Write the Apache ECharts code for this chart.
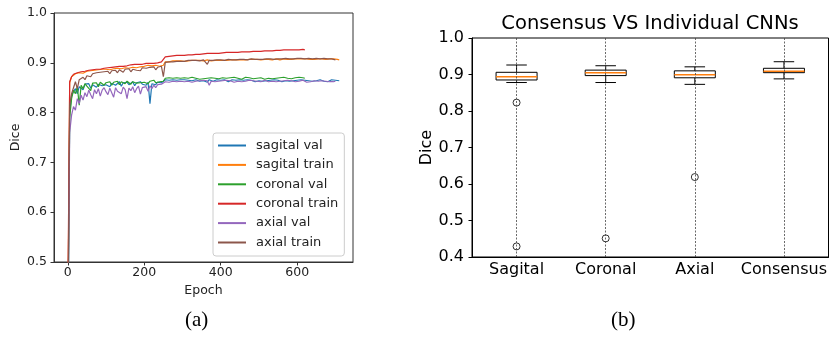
<!DOCTYPE html>
<html>
<head>
<meta charset="utf-8">
<script src="https://cdn.jsdelivr.net/npm/echarts@6/dist/echarts.min.js"></script>
<style>
  html, body { margin: 0; padding: 0; background: #fff; }
  #chart { width: 830px; height: 337px; }
</style>
</head>
<body>
<div id="chart"></div>
<script>
// one value every 5 epochs, starting at epoch 0
const epochStep = 5;
const epochTicks = [0, 200, 400, 600];

const sagitalVal = [
  0.30, 0.80, 0.835, 0.842, 0.848, 0.838, 0.852, 0.855, 0.846, 0.857, 0.853, 0.858, 0.849, 0.856, 0.859, 0.851, 0.857, 0.860, 0.854, 0.858,
  0.856, 0.860, 0.852, 0.859, 0.861, 0.855, 0.858, 0.862, 0.853, 0.860, 0.857, 0.861, 0.856, 0.859, 0.862, 0.854, 0.860, 0.858, 0.862, 0.857,
  0.860, 0.855, 0.861, 0.818, 0.858, 0.862, 0.856, 0.861, 0.859, 0.860, 0.857, 0.866, 0.864, 0.865, 0.863, 0.866, 0.864, 0.865, 0.862, 0.866,
  0.864, 0.866, 0.863, 0.865, 0.867, 0.864, 0.862, 0.866, 0.865, 0.863, 0.866, 0.864, 0.865, 0.861, 0.866, 0.864, 0.863, 0.865, 0.866, 0.864,
  0.865, 0.863, 0.866, 0.864, 0.862, 0.865, 0.866, 0.863, 0.865, 0.864, 0.866, 0.862, 0.865, 0.864, 0.866, 0.863, 0.865, 0.864, 0.862, 0.866,
  0.864, 0.865, 0.863, 0.866, 0.864, 0.862, 0.865, 0.864, 0.866, 0.863, 0.865, 0.864, 0.862, 0.866, 0.864, 0.865, 0.863, 0.866, 0.864, 0.862,
  0.865, 0.864, 0.866, 0.863, 0.865, 0.862, 0.864, 0.866, 0.863, 0.865, 0.864, 0.862, 0.866, 0.864, 0.863, 0.865, 0.862, 0.864, 0.866, 0.863,
  0.865, 0.862, 0.864
];
const sagitalTrain = [
  0.35, 0.860, 0.872, 0.876, 0.878, 0.877, 0.880, 0.881, 0.879, 0.882, 0.883, 0.881, 0.884, 0.883, 0.885, 0.884, 0.886, 0.885, 0.887, 0.886,
  0.887, 0.888, 0.886, 0.889, 0.888, 0.890, 0.889, 0.891, 0.888, 0.891, 0.890, 0.892, 0.889, 0.892, 0.891, 0.893, 0.890, 0.893, 0.892, 0.894,
  0.893, 0.891, 0.895, 0.893, 0.894, 0.890, 0.895, 0.896, 0.893, 0.896, 0.895, 0.902, 0.903, 0.902, 0.903, 0.904, 0.903, 0.904, 0.903, 0.904,
  0.904, 0.903, 0.905, 0.904, 0.904, 0.905, 0.904, 0.905, 0.904, 0.905, 0.905, 0.904, 0.905, 0.906, 0.905, 0.904, 0.906, 0.905, 0.901, 0.905,
  0.906, 0.905, 0.906, 0.905, 0.906, 0.906, 0.905, 0.906, 0.907, 0.906, 0.905, 0.906, 0.907, 0.906, 0.906, 0.907, 0.906, 0.907, 0.906, 0.907,
  0.907, 0.906, 0.907, 0.907, 0.906, 0.907, 0.907, 0.906, 0.907, 0.908, 0.907, 0.906, 0.907, 0.908, 0.907, 0.907, 0.908, 0.907, 0.906, 0.908,
  0.907, 0.908, 0.907, 0.908, 0.907, 0.908, 0.908, 0.907, 0.908, 0.907, 0.908, 0.908, 0.907, 0.908, 0.908, 0.907, 0.908, 0.908, 0.907, 0.908,
  0.908, 0.907, 0.906
];
const coronalVal = [
  0.30, 0.79, 0.828, 0.845, 0.838, 0.852, 0.815, 0.855, 0.848, 0.858, 0.853, 0.857, 0.844, 0.859, 0.856, 0.860, 0.852, 0.861, 0.858, 0.855,
  0.860, 0.857, 0.862, 0.855, 0.861, 0.859, 0.863, 0.856, 0.862, 0.860, 0.858, 0.863, 0.861, 0.857, 0.862, 0.864, 0.859, 0.862, 0.860, 0.863,
  0.861, 0.864, 0.858, 0.863, 0.862, 0.865, 0.860, 0.864, 0.862, 0.865, 0.863, 0.869, 0.868, 0.870, 0.867, 0.869, 0.868, 0.870, 0.868, 0.869,
  0.868, 0.870, 0.867, 0.869, 0.868, 0.871, 0.868, 0.869, 0.870, 0.867, 0.869, 0.868, 0.870, 0.869, 0.867, 0.870, 0.868, 0.869, 0.871, 0.868,
  0.869, 0.870, 0.867, 0.869, 0.868, 0.870, 0.869, 0.871, 0.868, 0.869, 0.870, 0.867, 0.869, 0.871, 0.868, 0.870, 0.869, 0.868, 0.870, 0.869,
  0.868, 0.870, 0.869, 0.867, 0.870, 0.869, 0.871, 0.868, 0.870, 0.869, 0.868, 0.870, 0.869, 0.871, 0.868, 0.869, 0.870, 0.868, 0.869, 0.870,
  0.869, 0.871, 0.868, 0.870, 0.869
];
const coronalTrain = [
  0.40, 0.862, 0.872, 0.877, 0.879, 0.880, 0.881, 0.882, 0.883, 0.883, 0.884, 0.885, 0.885, 0.886, 0.886, 0.887, 0.888, 0.887, 0.888, 0.889,
  0.889, 0.890, 0.890, 0.891, 0.891, 0.892, 0.892, 0.893, 0.894, 0.893, 0.895, 0.894, 0.895, 0.896, 0.895, 0.897, 0.896, 0.897, 0.898, 0.897,
  0.898, 0.899, 0.898, 0.899, 0.900, 0.899, 0.901, 0.900, 0.901, 0.902, 0.901, 0.912, 0.913, 0.913, 0.914, 0.914, 0.914, 0.915, 0.915, 0.915,
  0.916, 0.915, 0.916, 0.916, 0.917, 0.916, 0.917, 0.917, 0.918, 0.917, 0.918, 0.918, 0.918, 0.919, 0.918, 0.919, 0.919, 0.919, 0.920, 0.919,
  0.920, 0.920, 0.920, 0.921, 0.920, 0.921, 0.921, 0.921, 0.922, 0.921, 0.922, 0.922, 0.922, 0.922, 0.923, 0.922, 0.923, 0.923, 0.923, 0.923,
  0.924, 0.923, 0.924, 0.924, 0.924, 0.924, 0.925, 0.924, 0.925, 0.925, 0.925, 0.925, 0.925, 0.926, 0.925, 0.926, 0.925, 0.926, 0.926, 0.926,
  0.926, 0.926, 0.926, 0.927, 0.926
];
const axialVal = [
  0.30, 0.76, 0.795, 0.812, 0.805, 0.828, 0.818, 0.835, 0.825, 0.840, 0.832, 0.845, 0.836, 0.828, 0.846, 0.838, 0.848, 0.833, 0.845, 0.850,
  0.842, 0.836, 0.849, 0.845, 0.831, 0.850, 0.843, 0.847, 0.838, 0.851, 0.846, 0.828, 0.849, 0.844, 0.852, 0.840, 0.848, 0.853, 0.837, 0.850,
  0.846, 0.852, 0.843, 0.854, 0.848, 0.855, 0.850, 0.856, 0.852, 0.857, 0.855, 0.862, 0.864, 0.861, 0.865, 0.863, 0.864, 0.862, 0.865, 0.863,
  0.864, 0.862, 0.865, 0.863, 0.864, 0.861, 0.865, 0.863, 0.862, 0.864, 0.863, 0.865, 0.862, 0.864, 0.855, 0.863, 0.864, 0.862, 0.865, 0.863,
  0.862, 0.864, 0.863, 0.865, 0.862, 0.864, 0.863, 0.861, 0.864, 0.863, 0.865, 0.862, 0.864, 0.863, 0.862, 0.865, 0.863, 0.864, 0.862, 0.863,
  0.864, 0.862, 0.863, 0.865, 0.863, 0.862, 0.864, 0.863, 0.865, 0.862, 0.864, 0.863, 0.861, 0.864, 0.863, 0.865, 0.862, 0.864, 0.863, 0.862,
  0.864, 0.863, 0.862, 0.865, 0.863, 0.861, 0.864, 0.862, 0.863, 0.864, 0.862, 0.863, 0.861, 0.864, 0.862, 0.863, 0.861, 0.862, 0.864, 0.862,
  0.863
];
const axialTrain = [
  0.35, 0.815, 0.838, 0.850, 0.862, 0.848, 0.866, 0.868, 0.871, 0.866, 0.874, 0.876, 0.872, 0.878, 0.877, 0.880, 0.876, 0.881, 0.879, 0.882,
  0.880, 0.883, 0.878, 0.884, 0.882, 0.885, 0.880, 0.886, 0.883, 0.881, 0.887, 0.884, 0.888, 0.882, 0.887, 0.889, 0.885, 0.888, 0.884, 0.890,
  0.887, 0.889, 0.885, 0.891, 0.888, 0.892, 0.886, 0.891, 0.889, 0.893, 0.872, 0.901, 0.902, 0.902, 0.903, 0.902, 0.903, 0.903, 0.904, 0.903,
  0.904, 0.903, 0.904, 0.905, 0.904, 0.905, 0.904, 0.905, 0.905, 0.904, 0.905, 0.906, 0.905, 0.897, 0.905, 0.906, 0.905, 0.906, 0.906, 0.905,
  0.906, 0.906, 0.905, 0.906, 0.907, 0.906, 0.906, 0.907, 0.906, 0.907, 0.907, 0.906, 0.907, 0.907, 0.906, 0.907, 0.908, 0.907, 0.907, 0.908,
  0.907, 0.908, 0.907, 0.908, 0.908, 0.907, 0.908, 0.908, 0.907, 0.908, 0.908, 0.909, 0.908, 0.908, 0.909, 0.908, 0.908, 0.909, 0.908, 0.909,
  0.909, 0.908, 0.909, 0.909, 0.908, 0.909, 0.909, 0.909, 0.908, 0.909, 0.909, 0.909, 0.908, 0.909, 0.909, 0.909, 0.908, 0.909, 0.908, 0.907,
  0.906
];

const boxCategories = ['Sagital', 'Coronal', 'Axial', 'Consensus'];
const whiskerLow = [0.878, 0.878, 0.873, 0.888];
const quartile1 = [0.885, 0.897, 0.891, 0.905];
const medians = [0.894, 0.905, 0.899, 0.909];
const quartile3 = [0.906, 0.912, 0.910, 0.917];
const whiskerHigh = [0.926, 0.924, 0.921, 0.935];
const outlierCats = ['Sagital', 'Sagital', 'Coronal', 'Axial'];
const outlierVals = [0.823, 0.429, 0.451, 0.619];

const FONT = 'DejaVu Sans';
const AXIS = '#333';
const lineSeries = [
  ['sagital val', sagitalVal, '#1f77b4'],
  ['sagital train', sagitalTrain, '#ff7f0e'],
  ['coronal val', coronalVal, '#2ca02c'],
  ['coronal train', coronalTrain, '#d62728'],
  ['axial val', axialVal, '#9467bd'],
  ['axial train', axialTrain, '#8c564b']
];

const chart = echarts.init(document.getElementById('chart'), null, {renderer: 'canvas'});

function renderBox (params, api) {
  const i = api.value(0);
  const lo = api.coord([i, api.value(1)]);
  const q1 = api.coord([i, api.value(2)]);
  const md = api.coord([i, api.value(3)]);
  const q3 = api.coord([i, api.value(4)]);
  const hi = api.coord([i, api.value(5)]);
  const band = api.size([1, 0])[0];
  const bw = band * 0.46, cw = band * 0.23;
  const cx = lo[0];
  const black = {stroke: '#000', lineWidth: 1, fill: null};
  return {
    type: 'group',
    children: [
      {type: 'line', shape: {x1: cx, y1: q3[1], x2: cx, y2: hi[1]}, style: black},
      {type: 'line', shape: {x1: cx, y1: q1[1], x2: cx, y2: lo[1]}, style: black},
      {type: 'line', shape: {x1: cx - cw / 2, y1: hi[1], x2: cx + cw / 2, y2: hi[1]}, style: black},
      {type: 'line', shape: {x1: cx - cw / 2, y1: lo[1], x2: cx + cw / 2, y2: lo[1]}, style: black},
      {type: 'rect', shape: {x: cx - bw / 2, y: q3[1], width: bw, height: q1[1] - q3[1]}, style: black},
      {type: 'line', shape: {x1: cx - bw / 2, y1: md[1], x2: cx + bw / 2, y2: md[1]}, style: {stroke: '#ff7f0e', lineWidth: 1.5}}
    ]
  };
}

chart.setOption({
  animation: false,
  textStyle: {fontFamily: FONT},
  title: {
    text: 'Consensus VS Individual CNNs',
    left: 650,
    top: 14,
    textAlign: 'center',
    padding: 0,
    textStyle: {fontFamily: FONT, fontSize: 19.5, fontWeight: 'normal', color: '#000'}
  },
  legend: {
    data: lineSeries.map(s => s[0]),
    orient: 'vertical',
    left: 213,
    top: 133,
    padding: [5, 6, 6, 5],
    itemGap: 4.4,
    itemWidth: 28,
    itemHeight: 2,
    icon: 'rect',
    borderColor: '#ccc',
    borderWidth: 1,
    borderRadius: 3,
    backgroundColor: 'rgba(255,255,255,0.8)',
    textStyle: {fontFamily: FONT, fontSize: 13, color: '#222', lineHeight: 15, padding: [0, 0, 0, 5]}
  },
  grid: [
    {left: 54, right: 477, top: 13, bottom: 75, show: true, borderColor: AXIS, borderWidth: 1},
    {left: 472, right: 1, top: 38, bottom: 80, show: true, borderColor: '#000', borderWidth: 1}
  ],
  xAxis: [
    {
      type: 'value', gridIndex: 0, min: -36, max: 746,
      name: 'Epoch', nameLocation: 'middle', nameGap: 18,
      nameTextStyle: {fontFamily: FONT, fontSize: 12.5, color: '#222'},
      axisLine: {onZero: false, lineStyle: {color: AXIS}},
      axisTick: {customValues: epochTicks, length: 3.5, lineStyle: {color: AXIS}},
      axisLabel: {customValues: epochTicks, fontSize: 12.5, color: '#222', margin: 4},
      splitLine: {show: false}
    },
    {
      type: 'category', gridIndex: 1, data: boxCategories, boundaryGap: true,
      axisLine: {onZero: false, lineStyle: {color: '#000'}},
      axisTick: {alignWithLabel: true, length: 3.5, lineStyle: {color: '#000'}},
      axisLabel: {interval: 0, fontSize: 16, color: '#000', margin: 5},
      splitLine: {show: false}
    }
  ],
  yAxis: [
    {
      type: 'value', gridIndex: 0, min: 0.5, max: 1.0, interval: 0.1,
      name: 'Dice', nameLocation: 'middle', nameGap: 32,
      nameTextStyle: {fontFamily: FONT, fontSize: 12.5, color: '#222'},
      axisLine: {show: true, onZero: false, lineStyle: {color: AXIS}},
      axisTick: {show: true, length: 3.5, lineStyle: {color: AXIS}},
      axisLabel: {fontSize: 12.5, color: '#222', margin: 7, formatter: v => v.toFixed(1)},
      splitLine: {show: false}
    },
    {
      type: 'value', gridIndex: 1, min: 0.4, max: 1.0, interval: 0.1,
      name: 'Dice', nameLocation: 'middle', nameGap: 37,
      nameTextStyle: {fontFamily: FONT, fontSize: 16, color: '#000'},
      axisLine: {show: true, onZero: false, lineStyle: {color: '#000'}},
      axisTick: {show: true, length: 3.5, lineStyle: {color: '#000'}},
      axisLabel: {fontSize: 16, color: '#000', margin: 8, formatter: v => v.toFixed(1)},
      splitLine: {show: false}
    }
  ],
  graphic: [
    {type: 'text', left: 185, top: 310, style: {text: '(a)', font: '21px "Liberation Serif"', fill: '#000'}},
    {type: 'text', left: 611, top: 310, style: {text: '(b)', font: '21px "Liberation Serif"', fill: '#000'}}
  ],
  series: lineSeries.map(([name, vals, color]) => ({
    name: name,
    type: 'line',
    xAxisIndex: 0,
    yAxisIndex: 0,
    showSymbol: false,
    symbol: 'none',
    color: color,
    lineStyle: {width: 1.2, color: color},
    data: vals.map((v, i) => [i * epochStep, v])
  })).concat([
    {
      name: 'outliers',
      type: 'scatter',
      xAxisIndex: 1,
      yAxisIndex: 1,
      symbol: 'circle',
      symbolSize: 7,
      itemStyle: {color: 'rgba(0,0,0,0)', borderColor: '#000', borderWidth: 1},
      data: outlierCats.map((c, i) => [c, outlierVals[i]]),
      markLine: {
        silent: true,
        symbol: ['none', 'none'],
        label: {show: false},
        lineStyle: {color: '#444', width: 0.8, type: [2, 1.5]},
        data: boxCategories.map(c => ({xAxis: c}))
      }
    },
    {
      name: 'boxes',
      type: 'custom',
      xAxisIndex: 1,
      yAxisIndex: 1,
      renderItem: renderBox,
      encode: {x: 0, y: [1, 2, 3, 4, 5]},
      data: boxCategories.map((c, i) => [i, whiskerLow[i], quartile1[i], medians[i], quartile3[i], whiskerHigh[i]])
    }
  ])
});
</script>
</body>
</html>
